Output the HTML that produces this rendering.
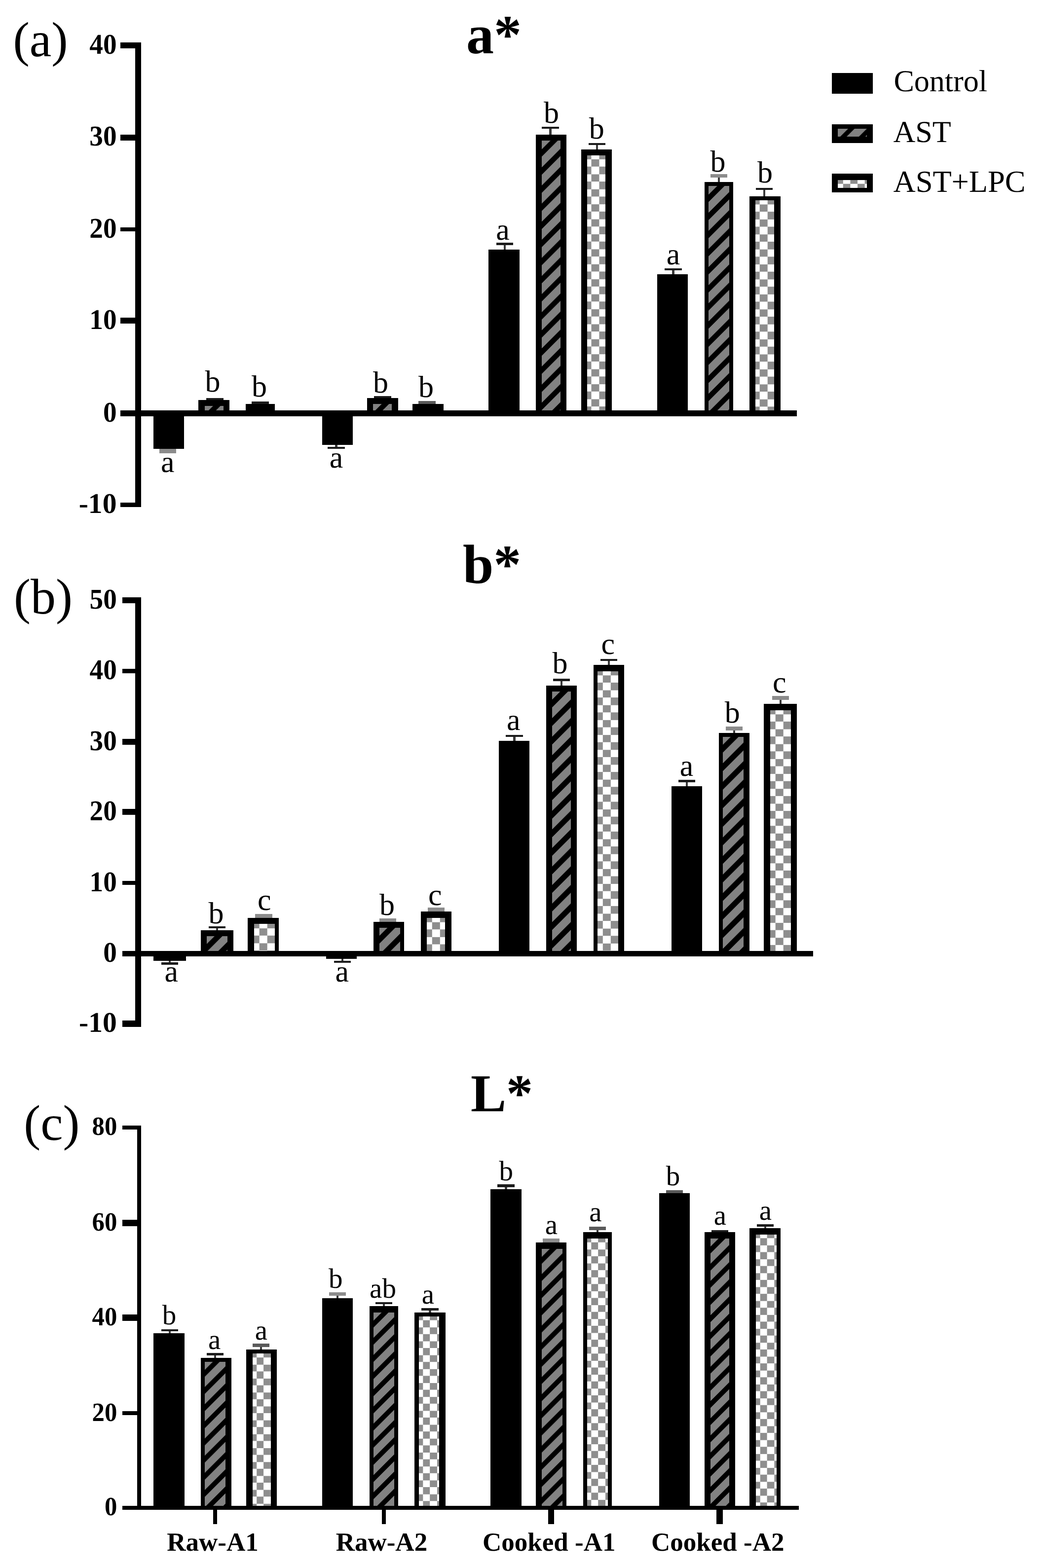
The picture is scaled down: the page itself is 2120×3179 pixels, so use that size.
<!DOCTYPE html>
<html lang="en">
<head>
<meta charset="utf-8">
<title>Colour parameters a*, b*, L* of raw and cooked samples</title>
<style>
html, body { margin: 0; padding: 0; background: #ffffff; }
body { width: 2120px; height: 3179px; overflow: hidden; }
svg { display: block; }
text { font-family: "Liberation Serif", "DejaVu Serif", serif; fill: #000; }
</style>
</head>
<body>
<svg width="2120" height="3179" viewBox="0 0 2120 3179" shape-rendering="crispEdges" text-rendering="geometricPrecision">
<defs>
<pattern id="pa1" patternUnits="userSpaceOnUse" x="414.6" y="822.9" width="36.7" height="36.7"><rect width="36.7" height="36.7" fill="#828282"/><g stroke="#000" stroke-width="10.54"><line x1="-36.7" y1="24.8" x2="73.4" y2="-85.3"/><line x1="-36.7" y1="61.5" x2="73.4" y2="-48.6"/><line x1="-36.7" y1="98.2" x2="73.4" y2="-11.9"/><line x1="-36.7" y1="134.9" x2="73.4" y2="24.8"/></g></pattern>
<pattern id="pa4" patternUnits="userSpaceOnUse" x="756.3" y="819.0" width="36.7" height="36.7"><rect width="36.7" height="36.7" fill="#828282"/><g stroke="#000" stroke-width="10.54"><line x1="-36.7" y1="24.8" x2="73.4" y2="-85.3"/><line x1="-36.7" y1="61.5" x2="73.4" y2="-48.6"/><line x1="-36.7" y1="98.2" x2="73.4" y2="-11.9"/><line x1="-36.7" y1="134.9" x2="73.4" y2="24.8"/></g></pattern>
<pattern id="pa7" patternUnits="userSpaceOnUse" x="1097.9" y="285.4" width="36.7" height="36.7"><rect width="36.7" height="36.7" fill="#828282"/><g stroke="#000" stroke-width="10.54"><line x1="-36.7" y1="24.8" x2="73.4" y2="-85.3"/><line x1="-36.7" y1="61.5" x2="73.4" y2="-48.6"/><line x1="-36.7" y1="98.2" x2="73.4" y2="-11.9"/><line x1="-36.7" y1="134.9" x2="73.4" y2="24.8"/></g></pattern>
<pattern id="pa8" patternUnits="userSpaceOnUse" x="1182.5" y="307.3" width="32.00" height="30.40"><rect width="32.00" height="30.40" fill="#fff"/><rect width="16.00" height="15.20" fill="#8e8e8e"/><rect x="16.00" y="15.20" width="16.00" height="15.20" fill="#8e8e8e"/></pattern>
<pattern id="pa10" patternUnits="userSpaceOnUse" x="1436.0" y="377.3" width="36.7" height="36.7"><rect width="36.7" height="36.7" fill="#828282"/><g stroke="#000" stroke-width="10.54"><line x1="-36.7" y1="24.8" x2="73.4" y2="-85.3"/><line x1="-36.7" y1="61.5" x2="73.4" y2="-48.6"/><line x1="-36.7" y1="98.2" x2="73.4" y2="-11.9"/><line x1="-36.7" y1="134.9" x2="73.4" y2="24.8"/></g></pattern>
<pattern id="pa11" patternUnits="userSpaceOnUse" x="1523.7" y="398.8" width="32.00" height="30.40"><rect width="32.00" height="30.40" fill="#fff"/><rect width="16.00" height="15.20" fill="#8e8e8e"/><rect x="16.00" y="15.20" width="16.00" height="15.20" fill="#8e8e8e"/></pattern>
<pattern id="pb1" patternUnits="userSpaceOnUse" x="418.6" y="1897.9" width="37.6" height="37.6"><rect width="37.6" height="37.6" fill="#828282"/><g stroke="#000" stroke-width="10.75"><line x1="-37.6" y1="24.4" x2="75.2" y2="-88.4"/><line x1="-37.6" y1="62.0" x2="75.2" y2="-50.8"/><line x1="-37.6" y1="99.6" x2="75.2" y2="-13.2"/><line x1="-37.6" y1="137.2" x2="75.2" y2="24.4"/></g></pattern>
<pattern id="pb2" patternUnits="userSpaceOnUse" x="508.7" y="1866.6" width="33.00" height="30.20"><rect width="33.00" height="30.20" fill="#fff"/><rect width="16.50" height="15.10" fill="#8e8e8e"/><rect x="16.50" y="15.10" width="16.50" height="15.10" fill="#8e8e8e"/></pattern>
<pattern id="pb4" patternUnits="userSpaceOnUse" x="768.7" y="1881.2" width="37.6" height="37.6"><rect width="37.6" height="37.6" fill="#828282"/><g stroke="#000" stroke-width="10.75"><line x1="-37.6" y1="24.4" x2="75.2" y2="-88.4"/><line x1="-37.6" y1="62.0" x2="75.2" y2="-50.8"/><line x1="-37.6" y1="99.6" x2="75.2" y2="-13.2"/><line x1="-37.6" y1="137.2" x2="75.2" y2="24.4"/></g></pattern>
<pattern id="pb5" patternUnits="userSpaceOnUse" x="858.8" y="1854.1" width="33.00" height="30.20"><rect width="33.00" height="30.20" fill="#fff"/><rect width="16.50" height="15.10" fill="#8e8e8e"/><rect x="16.50" y="15.10" width="16.50" height="15.10" fill="#8e8e8e"/></pattern>
<pattern id="pb7" patternUnits="userSpaceOnUse" x="1119.0" y="1402.1" width="37.6" height="37.6"><rect width="37.6" height="37.6" fill="#828282"/><g stroke="#000" stroke-width="10.75"><line x1="-37.6" y1="24.4" x2="75.2" y2="-88.4"/><line x1="-37.6" y1="62.0" x2="75.2" y2="-50.8"/><line x1="-37.6" y1="99.6" x2="75.2" y2="-13.2"/><line x1="-37.6" y1="137.2" x2="75.2" y2="24.4"/></g></pattern>
<pattern id="pb8" patternUnits="userSpaceOnUse" x="1204.8" y="1353.7" width="33.00" height="30.20"><rect width="33.00" height="30.20" fill="#fff"/><rect width="16.50" height="15.10" fill="#8e8e8e"/><rect x="16.50" y="15.10" width="16.50" height="15.10" fill="#8e8e8e"/></pattern>
<pattern id="pb10" patternUnits="userSpaceOnUse" x="1465.0" y="1493.6" width="37.6" height="37.6"><rect width="37.6" height="37.6" fill="#828282"/><g stroke="#000" stroke-width="10.75"><line x1="-37.6" y1="24.4" x2="75.2" y2="-88.4"/><line x1="-37.6" y1="62.0" x2="75.2" y2="-50.8"/><line x1="-37.6" y1="99.6" x2="75.2" y2="-13.2"/><line x1="-37.6" y1="137.2" x2="75.2" y2="24.4"/></g></pattern>
<pattern id="pb11" patternUnits="userSpaceOnUse" x="1554.7" y="1432.7" width="33.00" height="30.20"><rect width="33.00" height="30.20" fill="#fff"/><rect width="16.50" height="15.10" fill="#8e8e8e"/><rect x="16.50" y="15.10" width="16.50" height="15.10" fill="#8e8e8e"/></pattern>
<pattern id="pc1" patternUnits="userSpaceOnUse" x="415.3" y="2760.6" width="34.8" height="34.8"><rect width="34.8" height="34.8" fill="#828282"/><g stroke="#000" stroke-width="9.62"><line x1="-34.8" y1="23.3" x2="69.6" y2="-81.1"/><line x1="-34.8" y1="58.1" x2="69.6" y2="-46.3"/><line x1="-34.8" y1="92.9" x2="69.6" y2="-11.5"/><line x1="-34.8" y1="127.7" x2="69.6" y2="23.3"/></g></pattern>
<pattern id="pc2" patternUnits="userSpaceOnUse" x="505.4" y="2738.6" width="28.70" height="28.20"><rect width="28.70" height="28.20" fill="#fff"/><rect width="14.35" height="14.10" fill="#8e8e8e"/><rect x="14.35" y="14.10" width="14.35" height="14.10" fill="#8e8e8e"/></pattern>
<pattern id="pc4" patternUnits="userSpaceOnUse" x="757.2" y="2660.9" width="34.8" height="34.8"><rect width="34.8" height="34.8" fill="#828282"/><g stroke="#000" stroke-width="9.62"><line x1="-34.8" y1="23.3" x2="69.6" y2="-81.1"/><line x1="-34.8" y1="58.1" x2="69.6" y2="-46.3"/><line x1="-34.8" y1="92.9" x2="69.6" y2="-11.5"/><line x1="-34.8" y1="127.7" x2="69.6" y2="23.3"/></g></pattern>
<pattern id="pc5" patternUnits="userSpaceOnUse" x="842.5" y="2663.0" width="28.70" height="28.20"><rect width="28.70" height="28.20" fill="#fff"/><rect width="14.35" height="14.10" fill="#8e8e8e"/><rect x="14.35" y="14.10" width="14.35" height="14.10" fill="#8e8e8e"/></pattern>
<pattern id="pc7" patternUnits="userSpaceOnUse" x="1098.4" y="2531.5" width="34.8" height="34.8"><rect width="34.8" height="34.8" fill="#828282"/><g stroke="#000" stroke-width="9.62"><line x1="-34.8" y1="23.3" x2="69.6" y2="-81.1"/><line x1="-34.8" y1="58.1" x2="69.6" y2="-46.3"/><line x1="-34.8" y1="92.9" x2="69.6" y2="-11.5"/><line x1="-34.8" y1="127.7" x2="69.6" y2="23.3"/></g></pattern>
<pattern id="pc8" patternUnits="userSpaceOnUse" x="1183.5" y="2505.1" width="28.70" height="28.20"><rect width="28.70" height="28.20" fill="#fff"/><rect width="14.35" height="14.10" fill="#8e8e8e"/><rect x="14.35" y="14.10" width="14.35" height="14.10" fill="#8e8e8e"/></pattern>
<pattern id="pc10" patternUnits="userSpaceOnUse" x="1440.0" y="2510.9" width="34.8" height="34.8"><rect width="34.8" height="34.8" fill="#828282"/><g stroke="#000" stroke-width="9.62"><line x1="-34.8" y1="23.3" x2="69.6" y2="-81.1"/><line x1="-34.8" y1="58.1" x2="69.6" y2="-46.3"/><line x1="-34.8" y1="92.9" x2="69.6" y2="-11.5"/><line x1="-34.8" y1="127.7" x2="69.6" y2="23.3"/></g></pattern>
<pattern id="pc11" patternUnits="userSpaceOnUse" x="1525.9" y="2496.7" width="28.70" height="28.20"><rect width="28.70" height="28.20" fill="#fff"/><rect width="14.35" height="14.10" fill="#8e8e8e"/><rect x="14.35" y="14.10" width="14.35" height="14.10" fill="#8e8e8e"/></pattern>
<pattern id="plg1" patternUnits="userSpaceOnUse" x="1697.9" y="260.6" width="37.9" height="37.9"><rect width="37.9" height="37.9" fill="#828282"/><g stroke="#000" stroke-width="9.76"><line x1="-37.9" y1="27.9" x2="75.8" y2="-85.8"/><line x1="-37.9" y1="65.8" x2="75.8" y2="-47.9"/><line x1="-37.9" y1="103.7" x2="75.8" y2="-10.0"/><line x1="-37.9" y1="141.6" x2="75.8" y2="27.9"/></g></pattern>
<pattern id="plg2" patternUnits="userSpaceOnUse" x="1694.2" y="357.7" width="29.20" height="30.00"><rect width="29.20" height="30.00" fill="#fff"/><rect width="14.60" height="15.00" fill="#8e8e8e"/><rect x="14.60" y="15.00" width="14.60" height="15.00" fill="#8e8e8e"/></pattern>
</defs>
<rect x="0" y="0" width="2120" height="3179" fill="#ffffff"/>
<g id="chart-a">
<rect x="337.6" y="910.4" width="4.4" height="8.2" fill="#3a3a3a"/>
<rect x="322.6" y="910.4" width="34.4" height="8.2" fill="#8c8c8c"/>
<rect x="311.1" y="837.8" width="62.0" height="72.6" fill="#000"/>
<text x="339.8" y="956.8" font-size="62" font-weight="normal" text-anchor="middle">a</text>
<rect x="433.3" y="806.8" width="4.4" height="4.1" fill="#3a3a3a"/>
<rect x="418.3" y="806.8" width="34.4" height="4.1" fill="#1c1c1c"/>
<rect x="402.4" y="810.9" width="62.6" height="26.9" fill="#000"/>
<rect x="414.6" y="822.9" width="37.9" height="8.7" fill="url(#pa1)"/>
<text x="431.0" y="793.6" font-size="62" font-weight="normal" text-anchor="middle">b</text>
<rect x="525.3" y="814.0" width="4.4" height="5.1" fill="#3a3a3a"/>
<rect x="510.3" y="814.0" width="34.4" height="5.1" fill="#1c1c1c"/>
<rect x="498.1" y="819.1" width="58.7" height="18.7" fill="#000"/>
<text x="525.5" y="803.8" font-size="62" font-weight="normal" text-anchor="middle">b</text>
<rect x="679.4" y="902.0" width="4.4" height="8.4" fill="#3a3a3a"/>
<rect x="664.4" y="906.3" width="34.4" height="4.1" fill="#1c1c1c"/>
<rect x="652.6" y="837.8" width="62.2" height="64.2" fill="#000"/>
<text x="681.6" y="947.9" font-size="62" font-weight="normal" text-anchor="middle">a</text>
<rect x="773.3" y="802.5" width="4.4" height="4.3" fill="#3a3a3a"/>
<rect x="758.3" y="802.5" width="34.4" height="4.3" fill="#1c1c1c"/>
<rect x="744.1" y="806.8" width="62.5" height="31.0" fill="#000"/>
<rect x="756.3" y="819.0" width="37.8" height="12.6" fill="url(#pa4)"/>
<text x="771.5" y="796.0" font-size="62" font-weight="normal" text-anchor="middle">b</text>
<rect x="863.2" y="812.7" width="4.4" height="6.4" fill="#3a3a3a"/>
<rect x="848.2" y="812.7" width="34.4" height="6.4" fill="#5a5a5a"/>
<rect x="836.0" y="819.1" width="62.5" height="18.7" fill="#000"/>
<text x="863.4" y="805.0" font-size="62" font-weight="normal" text-anchor="middle">b</text>
<rect x="1021.0" y="492.3" width="4.4" height="14.0" fill="#3a3a3a"/>
<rect x="1006.0" y="492.3" width="34.4" height="5.1" fill="#1c1c1c"/>
<rect x="990.1" y="506.3" width="62.5" height="331.5" fill="#000"/>
<text x="1019.0" y="486.0" font-size="62" font-weight="normal" text-anchor="middle">a</text>
<rect x="1113.3" y="256.6" width="4.4" height="16.6" fill="#3a3a3a"/>
<rect x="1098.3" y="256.6" width="34.4" height="4.6" fill="#1c1c1c"/>
<rect x="1085.7" y="273.2" width="62.5" height="564.6" fill="#000"/>
<rect x="1097.9" y="285.4" width="38.1" height="546.2" fill="url(#pa7)"/>
<text x="1117.5" y="248.5" font-size="62" font-weight="normal" text-anchor="middle">b</text>
<rect x="1207.8" y="289.8" width="4.4" height="12.7" fill="#3a3a3a"/>
<rect x="1192.8" y="289.8" width="34.4" height="4.1" fill="#1c1c1c"/>
<rect x="1177.6" y="302.5" width="62.2" height="535.3" fill="#000"/>
<rect x="1190.1" y="314.7" width="37.2" height="516.9" fill="url(#pa8)"/>
<text x="1209.3" y="281.0" font-size="62" font-weight="normal" text-anchor="middle">b</text>
<rect x="1362.3" y="544.0" width="4.4" height="12.3" fill="#3a3a3a"/>
<rect x="1347.3" y="544.0" width="34.4" height="4.0" fill="#1c1c1c"/>
<rect x="1331.6" y="556.3" width="62.5" height="281.5" fill="#000"/>
<text x="1364.4" y="536.2" font-size="62" font-weight="normal" text-anchor="middle">a</text>
<rect x="1454.5" y="352.5" width="4.4" height="16.4" fill="#3a3a3a"/>
<rect x="1439.5" y="352.5" width="34.4" height="7.7" fill="#8c8c8c"/>
<rect x="1427.8" y="368.9" width="57.7" height="468.9" fill="#000"/>
<rect x="1436.0" y="377.3" width="41.6" height="454.3" fill="url(#pa10)"/>
<text x="1455.0" y="348.0" font-size="62" font-weight="normal" text-anchor="middle">b</text>
<rect x="1546.5" y="380.6" width="4.4" height="17.4" fill="#3a3a3a"/>
<rect x="1531.5" y="380.6" width="34.4" height="4.4" fill="#1c1c1c"/>
<rect x="1519.1" y="398.0" width="62.5" height="439.8" fill="#000"/>
<rect x="1531.3" y="406.2" width="37.8" height="425.4" fill="url(#pa11)"/>
<text x="1550.6" y="369.6" font-size="62" font-weight="normal" text-anchor="middle">b</text>
<rect x="273.7" y="86.0" width="12.0" height="941.5" fill="#000"/>
<rect x="244.0" y="831.6" width="1370.8" height="12.3" fill="#000"/>
<rect x="244.0" y="85.9" width="30.7" height="12.2" fill="#000"/>
<text x="236.5" y="108.8" font-size="58" font-weight="bold" text-anchor="end" textLength="55.2" lengthAdjust="spacingAndGlyphs">40</text>
<rect x="244.0" y="272.5" width="30.7" height="12.2" fill="#000"/>
<text x="236.5" y="295.4" font-size="58" font-weight="bold" text-anchor="end" textLength="55.2" lengthAdjust="spacingAndGlyphs">30</text>
<rect x="244.0" y="460.8" width="30.7" height="8.2" fill="#000"/>
<text x="236.5" y="481.7" font-size="58" font-weight="bold" text-anchor="end" textLength="55.2" lengthAdjust="spacingAndGlyphs">20</text>
<rect x="244.0" y="643.9" width="30.7" height="12.2" fill="#000"/>
<text x="236.5" y="666.8" font-size="58" font-weight="bold" text-anchor="end" textLength="55.2" lengthAdjust="spacingAndGlyphs">10</text>
<rect x="244.0" y="831.7" width="30.7" height="12.2" fill="#000"/>
<text x="236.5" y="854.6" font-size="58" font-weight="bold" text-anchor="end" textLength="27.6" lengthAdjust="spacingAndGlyphs">0</text>
<rect x="244.0" y="1019.3" width="30.7" height="8.2" fill="#000"/>
<text x="236.5" y="1040.2" font-size="58" font-weight="bold" text-anchor="end" textLength="76.8" lengthAdjust="spacingAndGlyphs">-10</text>
</g>
<g id="chart-b">
<rect x="341.8" y="1947.8" width="4.4" height="7.7" fill="#3a3a3a"/>
<rect x="326.8" y="1951.0" width="34.4" height="4.5" fill="#1c1c1c"/>
<rect x="311.1" y="1933.5" width="66.3" height="14.3" fill="#000"/>
<text x="347.3" y="1990.3" font-size="62" font-weight="normal" text-anchor="middle">a</text>
<rect x="437.9" y="1877.8" width="4.4" height="7.9" fill="#3a3a3a"/>
<rect x="422.9" y="1877.8" width="34.4" height="4.0" fill="#1c1c1c"/>
<rect x="406.8" y="1885.7" width="66.5" height="47.8" fill="#000"/>
<rect x="418.6" y="1897.9" width="42.2" height="29.7" fill="url(#pb1)"/>
<text x="438.0" y="1872.4" font-size="62" font-weight="normal" text-anchor="middle">b</text>
<rect x="532.3" y="1853.0" width="4.4" height="7.9" fill="#3a3a3a"/>
<rect x="517.3" y="1853.0" width="34.4" height="7.9" fill="#8c8c8c"/>
<rect x="502.4" y="1860.9" width="62.6" height="72.6" fill="#000"/>
<rect x="514.9" y="1873.4" width="41.6" height="54.2" fill="url(#pb2)"/>
<text x="535.7" y="1844.6" font-size="62" font-weight="normal" text-anchor="middle">c</text>
<rect x="691.8" y="1943.7" width="4.4" height="8.3" fill="#3a3a3a"/>
<rect x="676.8" y="1948.4" width="34.4" height="3.6" fill="#1c1c1c"/>
<rect x="660.9" y="1933.5" width="61.9" height="10.2" fill="#000"/>
<text x="693.3" y="1990.0" font-size="62" font-weight="normal" text-anchor="middle">a</text>
<rect x="783.8" y="1861.5" width="4.4" height="7.5" fill="#3a3a3a"/>
<rect x="768.8" y="1861.5" width="34.4" height="7.5" fill="#8c8c8c"/>
<rect x="756.5" y="1869.0" width="62.5" height="64.5" fill="#000"/>
<rect x="768.7" y="1881.2" width="42.2" height="46.4" fill="url(#pb4)"/>
<text x="784.5" y="1854.8" font-size="62" font-weight="normal" text-anchor="middle">b</text>
<rect x="881.5" y="1839.8" width="4.4" height="8.6" fill="#3a3a3a"/>
<rect x="866.5" y="1839.8" width="34.4" height="8.6" fill="#8c8c8c"/>
<rect x="852.8" y="1848.4" width="61.8" height="85.1" fill="#000"/>
<rect x="865.0" y="1860.9" width="37.1" height="66.7" fill="url(#pb5)"/>
<text x="881.7" y="1834.5" font-size="62" font-weight="normal" text-anchor="middle">c</text>
<rect x="1040.4" y="1490.0" width="4.4" height="12.2" fill="#3a3a3a"/>
<rect x="1025.4" y="1490.0" width="34.4" height="4.0" fill="#1c1c1c"/>
<rect x="1010.9" y="1502.2" width="62.5" height="431.3" fill="#000"/>
<text x="1040.7" y="1479.8" font-size="62" font-weight="normal" text-anchor="middle">a</text>
<rect x="1135.6" y="1376.0" width="4.4" height="13.6" fill="#3a3a3a"/>
<rect x="1120.6" y="1376.0" width="34.4" height="5.0" fill="#1c1c1c"/>
<rect x="1106.5" y="1389.6" width="62.6" height="543.9" fill="#000"/>
<rect x="1119.0" y="1402.1" width="37.9" height="525.5" fill="url(#pb7)"/>
<text x="1135.0" y="1365.0" font-size="62" font-weight="normal" text-anchor="middle">b</text>
<rect x="1231.5" y="1335.5" width="4.4" height="12.5" fill="#3a3a3a"/>
<rect x="1216.5" y="1335.5" width="34.4" height="4.5" fill="#1c1c1c"/>
<rect x="1202.5" y="1348.0" width="62.5" height="585.5" fill="#000"/>
<rect x="1211.0" y="1360.5" width="41.5" height="567.1" fill="url(#pb8)"/>
<text x="1232.2" y="1326.0" font-size="62" font-weight="normal" text-anchor="middle">c</text>
<rect x="1389.8" y="1581.0" width="4.4" height="12.7" fill="#3a3a3a"/>
<rect x="1374.8" y="1581.0" width="34.4" height="4.6" fill="#1c1c1c"/>
<rect x="1360.8" y="1593.7" width="62.5" height="339.8" fill="#000"/>
<text x="1391.6" y="1572.8" font-size="62" font-weight="normal" text-anchor="middle">a</text>
<rect x="1485.5" y="1473.4" width="4.4" height="12.1" fill="#3a3a3a"/>
<rect x="1470.5" y="1473.4" width="34.4" height="7.6" fill="#8c8c8c"/>
<rect x="1456.5" y="1485.5" width="62.5" height="448.0" fill="#000"/>
<rect x="1465.0" y="1493.6" width="41.8" height="434.0" fill="url(#pb10)"/>
<text x="1484.2" y="1465.0" font-size="62" font-weight="normal" text-anchor="middle">b</text>
<rect x="1579.5" y="1410.8" width="4.4" height="16.2" fill="#3a3a3a"/>
<rect x="1564.5" y="1410.8" width="34.4" height="7.8" fill="#8c8c8c"/>
<rect x="1548.4" y="1427.0" width="66.6" height="506.5" fill="#000"/>
<rect x="1560.9" y="1439.5" width="41.6" height="488.1" fill="url(#pb11)"/>
<text x="1579.7" y="1404.0" font-size="62" font-weight="normal" text-anchor="middle">c</text>
<rect x="273.8" y="1210.8" width="11.8" height="870.7" fill="#000"/>
<rect x="248.4" y="1927.6" width="1399.7" height="11.8" fill="#000"/>
<rect x="248.4" y="1210.8" width="26.4" height="11.8" fill="#000"/>
<text x="236.8" y="1233.5" font-size="58" font-weight="bold" text-anchor="end" textLength="55.2" lengthAdjust="spacingAndGlyphs">50</text>
<rect x="248.4" y="1356.4" width="26.4" height="8.2" fill="#000"/>
<text x="236.8" y="1377.3" font-size="58" font-weight="bold" text-anchor="end" textLength="55.2" lengthAdjust="spacingAndGlyphs">40</text>
<rect x="248.4" y="1497.7" width="26.4" height="12.6" fill="#000"/>
<text x="236.8" y="1520.8" font-size="58" font-weight="bold" text-anchor="end" textLength="55.2" lengthAdjust="spacingAndGlyphs">30</text>
<rect x="248.4" y="1639.9" width="26.4" height="12.4" fill="#000"/>
<text x="236.8" y="1662.9" font-size="58" font-weight="bold" text-anchor="end" textLength="55.2" lengthAdjust="spacingAndGlyphs">20</text>
<rect x="248.4" y="1785.9" width="26.4" height="8.4" fill="#000"/>
<text x="236.8" y="1806.9" font-size="58" font-weight="bold" text-anchor="end" textLength="55.2" lengthAdjust="spacingAndGlyphs">10</text>
<rect x="248.4" y="1927.6" width="26.4" height="11.8" fill="#000"/>
<text x="236.8" y="1950.3" font-size="58" font-weight="bold" text-anchor="end" textLength="27.6" lengthAdjust="spacingAndGlyphs">0</text>
<rect x="248.4" y="2069.1" width="26.4" height="12.4" fill="#000"/>
<text x="236.8" y="2092.1" font-size="58" font-weight="bold" text-anchor="end" textLength="76.8" lengthAdjust="spacingAndGlyphs">-10</text>
</g>
<g id="chart-c">
<rect x="341.7" y="2694.7" width="4.4" height="8.1" fill="#3a3a3a"/>
<rect x="326.7" y="2694.7" width="34.4" height="4.0" fill="#1c1c1c"/>
<rect x="311.1" y="2702.8" width="62.5" height="353.8" fill="#000"/>
<text x="343.0" y="2685.2" font-size="57" font-weight="normal" text-anchor="middle">b</text>
<rect x="433.7" y="2743.0" width="4.4" height="9.8" fill="#3a3a3a"/>
<rect x="418.7" y="2743.0" width="34.4" height="4.7" fill="#1c1c1c"/>
<rect x="406.8" y="2752.8" width="62.5" height="303.8" fill="#000"/>
<rect x="415.3" y="2760.6" width="41.5" height="292.0" fill="url(#pc1)"/>
<text x="434.6" y="2735.0" font-size="57" font-weight="normal" text-anchor="middle">a</text>
<rect x="527.0" y="2724.0" width="4.4" height="11.9" fill="#3a3a3a"/>
<rect x="512.0" y="2724.0" width="34.4" height="6.8" fill="#5a5a5a"/>
<rect x="498.7" y="2735.9" width="62.5" height="320.7" fill="#000"/>
<rect x="511.5" y="2744.4" width="37.2" height="308.2" fill="url(#pc2)"/>
<text x="529.3" y="2716.3" font-size="57" font-weight="normal" text-anchor="middle">a</text>
<rect x="681.7" y="2620.0" width="4.4" height="11.8" fill="#3a3a3a"/>
<rect x="666.7" y="2620.0" width="34.4" height="7.0" fill="#8c8c8c"/>
<rect x="652.8" y="2631.8" width="62.2" height="424.8" fill="#000"/>
<text x="680.2" y="2610.8" font-size="57" font-weight="normal" text-anchor="middle">b</text>
<rect x="775.8" y="2639.6" width="4.4" height="8.8" fill="#3a3a3a"/>
<rect x="760.8" y="2639.6" width="34.4" height="4.4" fill="#1c1c1c"/>
<rect x="748.8" y="2648.4" width="58.5" height="408.2" fill="#000"/>
<rect x="757.2" y="2660.9" width="41.6" height="391.7" fill="url(#pc4)"/>
<text x="776.0" y="2631.0" font-size="57" font-weight="normal" text-anchor="middle">ab</text>
<rect x="869.1" y="2651.5" width="4.4" height="9.2" fill="#3a3a3a"/>
<rect x="854.1" y="2651.5" width="34.4" height="5.1" fill="#1c1c1c"/>
<rect x="840.1" y="2660.7" width="62.5" height="395.9" fill="#000"/>
<rect x="848.6" y="2668.8" width="41.5" height="383.8" fill="url(#pc5)"/>
<text x="867.3" y="2643.0" font-size="57" font-weight="normal" text-anchor="middle">a</text>
<rect x="1023.3" y="2401.4" width="4.4" height="9.5" fill="#3a3a3a"/>
<rect x="1008.3" y="2401.4" width="34.4" height="5.1" fill="#1c1c1c"/>
<rect x="994.2" y="2410.9" width="62.6" height="645.7" fill="#000"/>
<text x="1025.8" y="2393.0" font-size="57" font-weight="normal" text-anchor="middle">b</text>
<rect x="1115.0" y="2511.0" width="4.4" height="8.0" fill="#3a3a3a"/>
<rect x="1100.0" y="2511.0" width="34.4" height="8.0" fill="#8c8c8c"/>
<rect x="1086.2" y="2519.0" width="62.1" height="537.6" fill="#000"/>
<rect x="1098.4" y="2531.5" width="41.8" height="521.1" fill="url(#pc7)"/>
<text x="1117.5" y="2502.0" font-size="57" font-weight="normal" text-anchor="middle">a</text>
<rect x="1208.5" y="2487.0" width="4.4" height="11.4" fill="#3a3a3a"/>
<rect x="1193.5" y="2487.0" width="34.4" height="6.7" fill="#5a5a5a"/>
<rect x="1181.5" y="2498.4" width="58.5" height="558.2" fill="#000"/>
<rect x="1189.6" y="2510.9" width="42.0" height="541.7" fill="url(#pc8)"/>
<text x="1207.0" y="2476.4" font-size="57" font-weight="normal" text-anchor="middle">a</text>
<rect x="1365.0" y="2413.3" width="4.4" height="5.7" fill="#3a3a3a"/>
<rect x="1350.0" y="2413.3" width="34.4" height="5.7" fill="#5a5a5a"/>
<rect x="1335.9" y="2419.0" width="62.5" height="637.6" fill="#000"/>
<text x="1364.0" y="2403.0" font-size="57" font-weight="normal" text-anchor="middle">b</text>
<rect x="1456.5" y="2493.8" width="4.4" height="4.6" fill="#3a3a3a"/>
<rect x="1441.5" y="2493.8" width="34.4" height="4.6" fill="#1c1c1c"/>
<rect x="1427.5" y="2498.4" width="62.5" height="558.2" fill="#000"/>
<rect x="1440.0" y="2510.9" width="37.8" height="541.7" fill="url(#pc10)"/>
<text x="1459.4" y="2482.5" font-size="57" font-weight="normal" text-anchor="middle">a</text>
<rect x="1548.5" y="2481.8" width="4.4" height="8.2" fill="#3a3a3a"/>
<rect x="1533.5" y="2481.8" width="34.4" height="4.8" fill="#1c1c1c"/>
<rect x="1519.4" y="2490.0" width="62.6" height="566.6" fill="#000"/>
<rect x="1531.9" y="2502.5" width="41.6" height="550.1" fill="url(#pc11)"/>
<text x="1551.5" y="2473.0" font-size="57" font-weight="normal" text-anchor="middle">a</text>
<rect x="277.8" y="2281.8" width="7.8" height="778.8" fill="#000"/>
<rect x="248.4" y="3052.6" width="1370.9" height="8.0" fill="#000"/>
<rect x="248.4" y="2281.7" width="30.4" height="8.0" fill="#000"/>
<text x="237.4" y="2301.2" font-size="53.5" font-weight="bold" text-anchor="end" textLength="50.8" lengthAdjust="spacingAndGlyphs">80</text>
<rect x="248.4" y="2472.8" width="30.4" height="12.8" fill="#000"/>
<text x="237.4" y="2494.7" font-size="53.5" font-weight="bold" text-anchor="end" textLength="50.8" lengthAdjust="spacingAndGlyphs">60</text>
<rect x="248.4" y="2664.9" width="30.4" height="12.8" fill="#000"/>
<text x="237.4" y="2686.8" font-size="53.5" font-weight="bold" text-anchor="end" textLength="50.8" lengthAdjust="spacingAndGlyphs">40</text>
<rect x="248.4" y="2861.0" width="30.4" height="8.4" fill="#000"/>
<text x="237.4" y="2880.7" font-size="53.5" font-weight="bold" text-anchor="end" textLength="50.8" lengthAdjust="spacingAndGlyphs">20</text>
<rect x="248.4" y="3052.6" width="30.4" height="8.0" fill="#000"/>
<text x="237.4" y="3072.1" font-size="53.5" font-weight="bold" text-anchor="end" textLength="25.4" lengthAdjust="spacingAndGlyphs">0</text>
<rect x="431.9" y="3060.0" width="8.2" height="29.7" fill="#000"/>
<rect x="773.5" y="3060.0" width="8.2" height="29.7" fill="#000"/>
<rect x="1110.7" y="3060.0" width="12.4" height="29.7" fill="#000"/>
<rect x="1452.3" y="3060.0" width="12.6" height="29.7" fill="#000"/>
<text x="431.0" y="3143.5" font-size="53" font-weight="bold" text-anchor="middle">Raw-A1</text>
<text x="773.4" y="3143.5" font-size="53" font-weight="bold" text-anchor="middle">Raw-A2</text>
<text x="1112.8" y="3143.5" font-size="53" font-weight="bold" text-anchor="middle">Cooked -A1</text>
<text x="1454.8" y="3143.5" font-size="53" font-weight="bold" text-anchor="middle">Cooked -A2</text>
</g>
<g id="titles">
<text x="945.0" y="108.4" font-size="112" font-weight="bold" text-anchor="start">a*</text>
<text x="938.0" y="1182.4" font-size="112" font-weight="bold" text-anchor="start">b*</text>
<text x="954.0" y="2252.8" font-size="108" font-weight="bold" text-anchor="start">L*</text>
<text x="26.5" y="113.5" font-size="100" font-weight="normal" text-anchor="start">(a)</text>
<text x="28.0" y="1244.0" font-size="102" font-weight="normal" text-anchor="start">(b)</text>
<text x="48.3" y="2310.5" font-size="102" font-weight="normal" text-anchor="start">(c)</text>
</g>
<g id="legend">
<rect x="1685.8" y="147.8" width="83.3" height="41.7" fill="#000"/>
<rect x="1685.8" y="252.0" width="83.3" height="37.7" fill="#000"/>
<rect x="1697.9" y="260.6" width="58.9" height="16.5" fill="url(#plg1)"/>
<rect x="1685.8" y="352.1" width="83.3" height="37.5" fill="#000"/>
<rect x="1697.9" y="364.7" width="58.9" height="16.4" fill="url(#plg2)"/>
<text x="1811.5" y="185.2" font-size="62" font-weight="normal" text-anchor="start">Control</text>
<text x="1810.5" y="287.6" font-size="62" font-weight="normal" text-anchor="start">AST</text>
<text x="1810.5" y="389.0" font-size="62.5" font-weight="normal" text-anchor="start">AST+LPC</text>
</g>
</svg>
</body>
</html>
